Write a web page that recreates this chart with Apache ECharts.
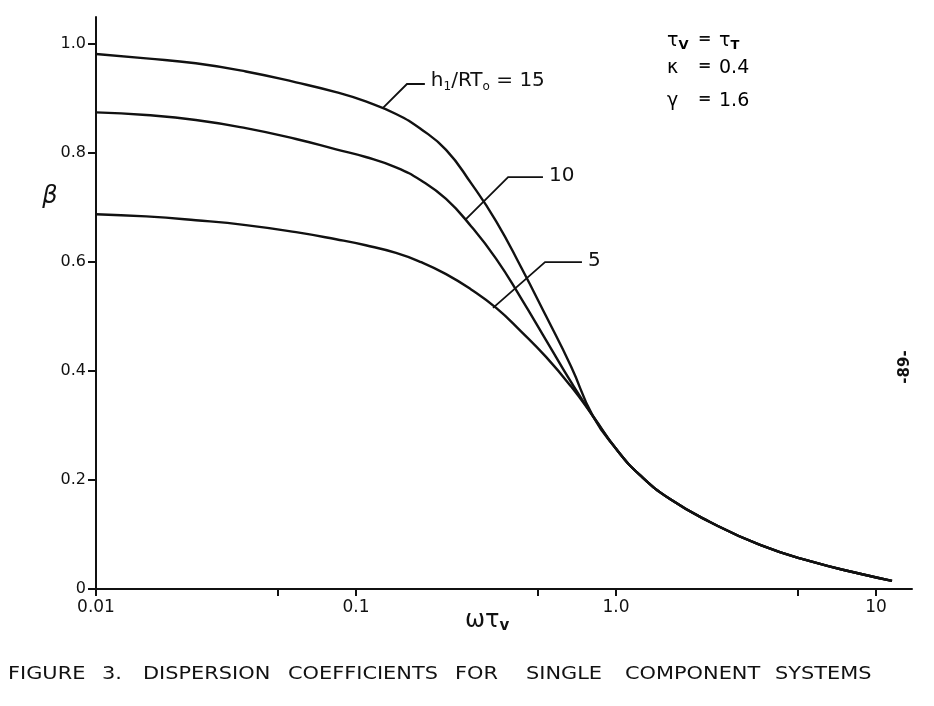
<!DOCTYPE html>
<html><head><meta charset="utf-8">
<script src="https://cdn.jsdelivr.net/npm/echarts@6/dist/echarts.min.js"></script>
<style>html,body{margin:0;padding:0;background:#fff}#c{width:934px;height:706px}</style>
</head><body><div id="c"></div>
<script>
// ---- data ----
// shared omega*tau_v sample points for the separated part of the three curves
const omegaMain = [0.01, 0.0156, 0.0242, 0.0377, 0.0588, 0.0838, 0.109, 0.1425, 0.178, 0.222, 0.277, 0.346, 0.431, 0.538, 0.671, 0.816];
const beta15    = [0.982, 0.974, 0.965, 0.950, 0.930, 0.912, 0.895, 0.872, 0.844, 0.806, 0.745, 0.675, 0.591, 0.501, 0.409, 0.317];
const beta10    = [0.875, 0.870, 0.861, 0.846, 0.826, 0.807, 0.793, 0.774, 0.750, 0.716, 0.666, 0.606, 0.534, 0.457, 0.380, 0.317];
const beta5     = [0.688, 0.684, 0.677, 0.668, 0.655, 0.642, 0.631, 0.617, 0.600, 0.578, 0.550, 0.516, 0.473, 0.426, 0.372, 0.317];
// common high-frequency tail (all three curves coincide)
const omegaTail = [1.009, 1.237, 1.613, 2.298, 3.58, 5.575, 8.68, 11.52];
const betaTail  = [0.255, 0.209, 0.165, 0.123, 0.081, 0.051, 0.028, 0.015];

const xTickValues  = [0.01, 0.05, 0.1, 0.5, 1, 5, 10];
const xLabelValues = [0.01, 0.1, 1, 10];
const xLabelTexts  = ['0.01', '0.1', '1.0', '10'];
const yTickValues  = [0, 0.2, 0.4, 0.6, 0.8, 1.0];
const yLabelTexts  = ['0', '0.2', '0.4', '0.6', '0.8', '1.0'];

// callout leader lines in data coordinates (start on curve, elbow, end)
const leader15 = [[0.127, 0.883], [0.157, 0.927], [0.184, 0.927]];
const leader10 = [[0.2624, 0.677], [0.3846, 0.756], [0.5236, 0.756]];
const leader5  = [[0.3365, 0.516], [0.5333, 0.600], [0.7396, 0.600]];

const captionWords = ['FIGURE', '3.', 'DISPERSION', 'COEFFICIENTS', 'FOR', 'SINGLE', 'COMPONENT', 'SYSTEMS'];

// ---- chart ----
const FONT = 'DejaVu Sans';
const INK = '#111';
const chart = echarts.init(document.getElementById('c'), null, {renderer: 'canvas'});
const pair = (xs, ys) => xs.map((x, i) => [x, ys[i]]);
const curve = (name, ys) => ({
  type: 'line', name, showSymbol: false, smooth: 0.5,
  lineStyle: {color: INK, width: 2.4}, itemStyle: {color: INK},
  data: pair(omegaMain.concat(omegaTail), ys.concat(betaTail)), z: 3
});
const near = (arr, v, log) => arr.findIndex(t => log ? Math.abs(Math.log10(t) - Math.log10(v)) < 1e-6 : Math.abs(t - v) < 1e-9);

chart.setOption({
  animation: false,
  backgroundColor: '#fff',
  grid: {left: 96, right: 22, top: 17, bottom: 117, containLabel: false, outerBoundsMode: 'none'},
  xAxis: {
    type: 'log', logBase: 10, min: 0.01, max: 13.75,
    splitLine: {show: false}, minorTick: {show: false},
    axisLine: {show: true, lineStyle: {color: INK, width: 2}},
    axisTick: {show: true, inside: false, length: 7, lineStyle: {color: INK, width: 2}, customValues: xTickValues},
    axisLabel: {show: true, customValues: xLabelValues, color: INK, fontFamily: FONT, fontSize: 17, margin: 10,
      formatter: v => { const i = near(xLabelValues, v, true); return i >= 0 ? xLabelTexts[i] : ''; }}
  },
  yAxis: {
    type: 'value', min: 0, max: 1.05,
    splitLine: {show: false},
    axisLine: {show: true, lineStyle: {color: INK, width: 2}},
    axisTick: {show: true, inside: false, length: 8, lineStyle: {color: INK, width: 2}, customValues: yTickValues},
    axisLabel: {show: true, customValues: yTickValues, color: INK, fontFamily: FONT, fontSize: 16, margin: 10,
      formatter: v => { const i = near(yTickValues, v, false); return i >= 0 ? yLabelTexts[i] : ''; }}
  },
  series: [
    curve('h1/RT0 = 15', beta15),
    curve('10', beta10),
    curve('5', beta5)
  ]
});

const toPx = p => chart.convertToPixel({gridIndex: 0}, p);
const graphics = [];
function callout(pts, rich, text, dy) {
  const px = pts.map(toPx);
  graphics.push({type: 'polyline', shape: {points: px}, style: {stroke: INK, lineWidth: 1.8, fill: null}, z: 5});
  const end = px[px.length - 1];
  graphics.push({type: 'text', x: end[0] + 6, y: end[1] + dy, z: 5,
    style: {text, fill: INK, fontFamily: FONT, fontSize: 20, verticalAlign: 'middle', align: 'left', rich}});
}
const subRich = {
  a: {fontFamily: FONT, fontSize: 20, lineHeight: 24, fill: INK, color: INK},
  s: {fontFamily: FONT, fontSize: 12, lineHeight: 12, verticalAlign: 'bottom', fill: INK, color: INK}
};
callout(leader15, subRich, '{a|h}{s|1}{a|/RT}{s|o}{a| = 15}', -3);
callout(leader10, null, '10', -1);
callout(leader5, null, '5', -1);

// axis names
graphics.push({type: 'text', x: 50, y: 197, style: {text: 'β', fill: INK, fontFamily: FONT, fontStyle: 'italic', fontSize: 24, align: 'center', verticalAlign: 'middle'}});
graphics.push({type: 'text', x: 465, y: 621, style: {
  text: '{a|ωτ}{s|v}', fill: INK, align: 'left', verticalAlign: 'middle',
  rich: {a: {fontFamily: FONT, fontSize: 24, lineHeight: 26, color: INK}, s: {fontFamily: FONT, fontSize: 15, lineHeight: 15, verticalAlign: 'bottom', color: INK, fontWeight: 'bold'}}}});

// parameter block (top right)
const pRich = {
  a: {fontFamily: FONT, fontSize: 19, lineHeight: 22, color: INK},
  s: {fontFamily: FONT, fontSize: 13, lineHeight: 12, verticalAlign: 'bottom', color: INK, fontWeight: 'bold'}
};
const params = [
  ['{a|τ}{s|V}', '{a|τ}{s|T}', 41],
  ['{a|κ}', '{a|0.4}', 68],
  ['{a|γ}', '{a|1.6}', 101]
];
params.forEach(([l, r, y]) => {
  graphics.push({type: 'text', x: 667, y, style: {text: l, align: 'left', verticalAlign: 'middle', rich: pRich}});
  graphics.push({type: 'text', x: 698, y: y - 2, style: {text: '=', fill: INK, fontFamily: FONT, fontSize: 16, align: 'left', verticalAlign: 'middle', fontWeight: 'bold'}});
  graphics.push({type: 'text', x: 719, y, style: {text: r, align: 'left', verticalAlign: 'middle', rich: pRich}});
});

// page number (rotated)
graphics.push({type: 'text', x: 905, y: 367, rotation: Math.PI / 2,
  style: {text: '-89-', fill: INK, fontFamily: FONT, fontSize: 15, fontWeight: 'bold', align: 'center', verticalAlign: 'middle'}});

// caption
const captionX = [8, 102, 143, 288, 455, 526, 625, 775];
captionWords.forEach((w, i) => {
  graphics.push({type: 'text', x: captionX[i], y: 674, scaleX: 1.16,
    style: {text: w, fill: INK, fontFamily: FONT, fontSize: 18, align: 'left', verticalAlign: 'middle'}});
});

chart.setOption({graphic: graphics});
</script>
</body></html>
